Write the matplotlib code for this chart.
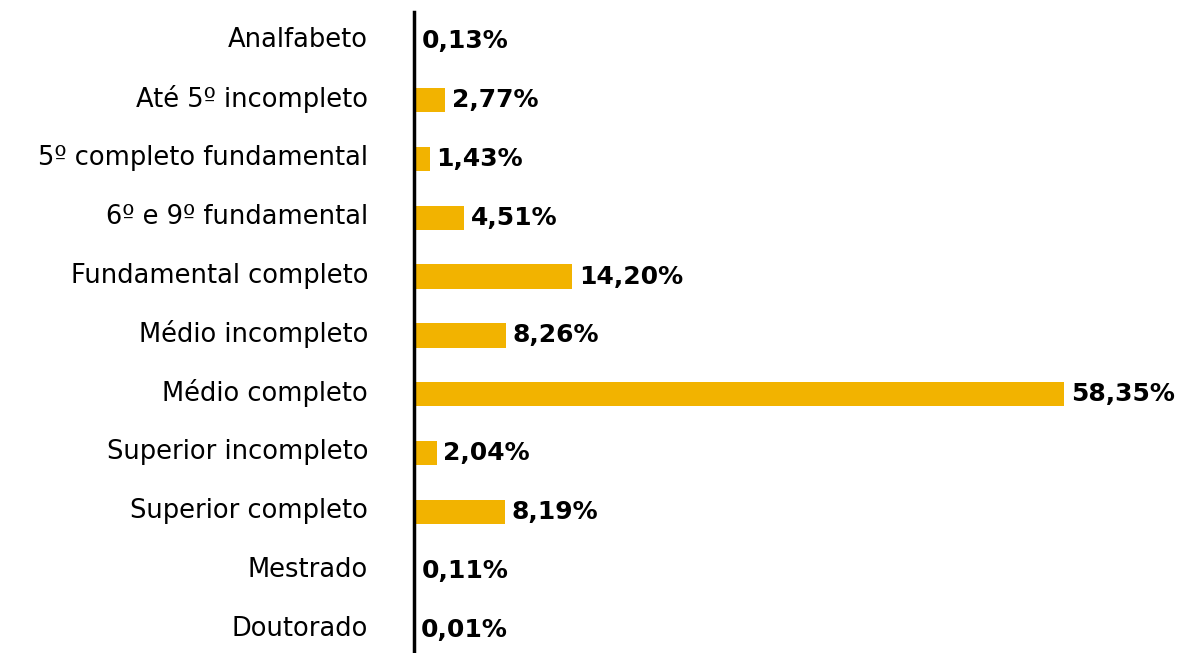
import matplotlib
matplotlib.use("Agg")
import matplotlib.pyplot as plt
import matplotlib.transforms as mtransforms

categorias = [
    "Analfabeto",
    "Até 5º incompleto",
    "5º completo fundamental",
    "6º e 9º fundamental",
    "Fundamental completo",
    "Médio incompleto",
    "Médio completo",
    "Superior incompleto",
    "Superior completo",
    "Mestrado",
    "Doutorado",
]
valores = [0.13, 2.77, 1.43, 4.51, 14.20, 8.26, 58.35, 2.04, 8.19, 0.11, 0.01]
rotulos = ["0,13%", "2,77%", "1,43%", "4,51%", "14,20%", "8,26%",
           "58,35%", "2,04%", "8,19%", "0,11%", "0,01%"]

cor = "#F2B300"

plt.rcParams['font.family'] = ['DejaVu Sans']

fig = plt.figure(figsize=(11.77, 6.53), dpi=100)
ax = fig.add_axes([414 / 1177, 0, 763 / 1177, 641 / 653])

pos = list(range(len(categorias)))
ax.barh(pos, valores, height=0.41, color=cor)

for p, v, r in zip(pos, valores, rotulos):
    ax.text(v + 0.6, p, r, va="center", ha="left", fontsize=18,
            fontweight="bold", color="black")

ax.set_xlim(0, 68.5)
ax.set_ylim(10.39, -0.49)
ax.set_yticks(pos)
ax.set_yticklabels(categorias, fontsize=18.5)
ax.tick_params(axis="y", length=0, pad=33)
# labels sit a little above the bar centre in the original
sobe = mtransforms.ScaledTranslation(0, 4 / 100, fig.dpi_scale_trans)
for lab in ax.get_yticklabels():
    lab.set_transform(lab.get_transform() + sobe)
ax.set_xticks([])
for s in ["top", "right", "bottom"]:
    ax.spines[s].set_visible(False)
ax.spines["left"].set_linewidth(2.5)
ax.spines["left"].set_color("black")

fig.savefig("out.png", dpi=100)
